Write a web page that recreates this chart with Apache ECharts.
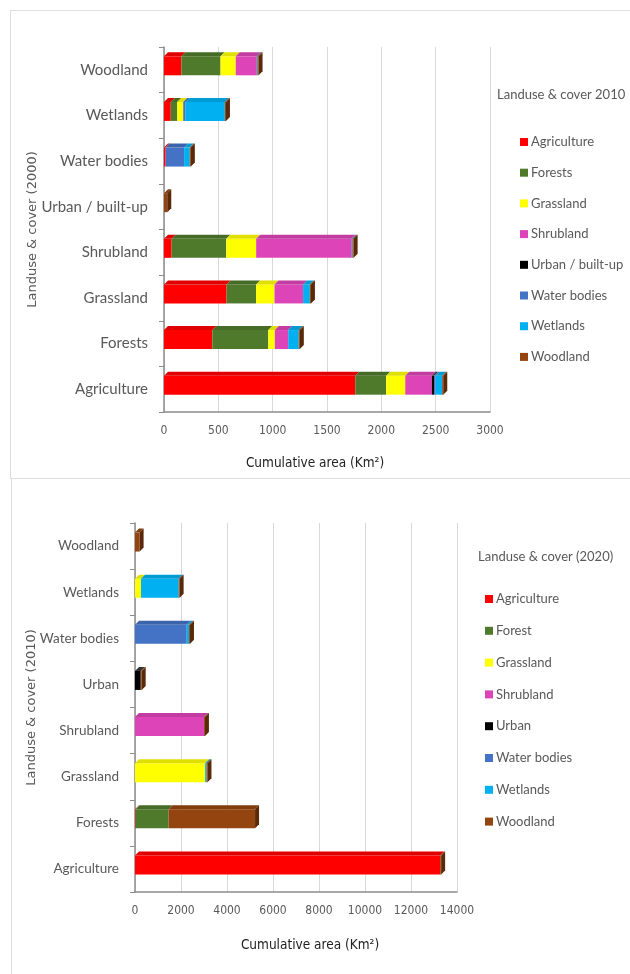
<!DOCTYPE html>
<html>
<head>
<meta charset="utf-8">
<script src="https://cdn.jsdelivr.net/npm/echarts@6/dist/echarts.min.js"></script>
<style>
  body { margin: 0; background: #fff; }
  .panel { position: absolute; border: 1px solid #dedede; border-right: none; background: #fff; }
</style>
</head>
<body>
<div id="top" class="panel" style="left:10px;top:10px;width:620px;height:467px;"></div>
<div id="bottom" class="panel" style="left:11px;top:478px;width:619px;height:496px;border-bottom:none;"></div>
<script>
// rows (y axis categories), bottom to top
const rows2000 = ['Agriculture', 'Forests', 'Grassland', 'Shrubland', 'Urban / built-up', 'Water bodies', 'Wetlands', 'Woodland'];
const rows2010 = ['Agriculture', 'Forests', 'Grassland', 'Shrubland', 'Urban', 'Water bodies', 'Wetlands', 'Woodland'];

// legend / series names
const classes2010 = ['Agriculture', 'Forests', 'Grassland', 'Shrubland', 'Urban / built-up', 'Water bodies', 'Wetlands', 'Woodland'];
const classes2020 = ['Agriculture', 'Forest', 'Grassland', 'Shrubland', 'Urban', 'Water bodies', 'Wetlands', 'Woodland'];

const colors = ['#ff0000', '#4f7a2c', '#ffff00', '#dd44b8', '#000000', '#4472c4', '#00b0f0', '#94440f'];

// 2000 -> 2010 transitions (km2), one array per 2010 class, ordered like rows2000
const agri2010 = [1760, 445, 576, 70, 0, 15, 62, 160];
const forest2010 = [285, 515, 272, 503, 0, 0, 60, 360];
const grass2010 = [175, 60, 169, 275, 0, 0, 55, 140];
const shrub2010 = [245, 123, 263, 877, 0, 0, 0, 190];
const urban2010 = [20, 0, 0, 0, 0, 0, 0, 0];
const water2010 = [15, 0, 0, 10, 0, 170, 22, 10];
const wet2010 = [60, 97, 62, 0, 0, 52, 361, 0];
const wood2010 = [10, 10, 10, 10, 30, 10, 10, 10];

// 2010 -> 2020 transitions (km2), ordered like rows2010
const agri2020 = [13270, 30, 0, 0, 0, 0, 0, 0];
const forest2020 = [0, 1430, 0, 0, 0, 0, 0, 0];
const grass2020 = [0, 0, 3050, 0, 0, 0, 260, 0];
const shrub2020 = [0, 0, 0, 3000, 0, 0, 0, 0];
const urban2020 = [0, 0, 0, 0, 250, 0, 0, 0];
const water2020 = [0, 0, 0, 0, 0, 2250, 0, 0];
const wet2020 = [0, 0, 60, 0, 0, 100, 1640, 0];
const wood2020 = [40, 3760, 40, 40, 40, 40, 40, 200];

const grey = '#595959';
const narrow = "'Liberation Sans Narrow', 'DejaVu Sans Condensed', 'Liberation Sans', sans-serif";

function shade(hex, f) {
  const n = parseInt(hex.slice(1), 16);
  const r = Math.round(((n >> 16) & 255) * f), g = Math.round(((n >> 8) & 255) * f), b = Math.round((n & 255) * f);
  return 'rgb(' + r + ',' + g + ',' + b + ')';
}

// stacked 3D-looking bars drawn with a custom series per class
function barSeries(names, values, barH, off, d) {
  const nRows = values[0].length;
  const base = values.map(() => new Array(nRows).fill(0));
  const lastIdx = new Array(nRows).fill(-1);
  for (let r = 0; r < nRows; r++) {
    let acc = 0;
    for (let i = 0; i < values.length; i++) {
      base[i][r] = acc;
      acc += values[i][r];
      if (values[i][r] > 0) lastIdx[r] = i;
    }
  }
  return names.map((n, i) => ({
    name: n, type: 'custom',
    itemStyle: { color: colors[i] },
    encode: { x: 0, y: 1 },
    data: values[i].map((v, r) => [v, r, base[i][r], lastIdx[r] === i ? 1 : 0]),
    renderItem: (params, api) => {
      const v = api.value(0);
      if (!v) return null;
      const r = api.value(1), b = api.value(2), last = api.value(3);
      const p0 = api.coord([b, r]), p1 = api.coord([b + v, r]);
      const x0 = p0[0], x1 = p1[0];
      const yt = p0[1] + off - barH / 2, yb = p0[1] + off + barH / 2;
      const kids = [
        { type: 'rect', shape: { x: x0, y: yt, width: x1 - x0, height: barH }, style: { fill: colors[i] } },
        { type: 'polygon', shape: { points: [[x0, yt], [x1, yt], [x1 + d, yt - d], [x0 + d, yt - d]] },
          style: { fill: colors[i] === '#000000' ? '#333' : shade(colors[i], 0.88) } }
      ];
      if (last) {
        kids.push({ type: 'polygon', shape: { points: [[x1, yt], [x1 + d, yt - d], [x1 + d, yb - d], [x1, yb]] },
          style: { fill: shade(colors[i], 0.6) } });
      }
      return { type: 'group', children: kids };
    }
  }));
}

function makeOption(cfg) {
  return {
    animation: false,
    color: colors,
    title: {
      text: cfg.legendTitle,
      left: cfg.legendTitleLeft, top: cfg.legendTitleTop,
      textStyle: { fontFamily: 'Lato', fontSize: 13, fontWeight: 'normal', color: grey }
    },
    legend: {
      orient: 'vertical',
      left: cfg.legendLeft, top: cfg.legendTop,
      itemWidth: 8, itemHeight: 8, itemGap: cfg.legendGap,
      icon: 'rect',
      data: cfg.names,
      textStyle: { fontFamily: 'Lato', fontSize: 13, color: grey, lineHeight: 16, padding: [0, 0, 0, -2] }
    },
    grid: {
      left: cfg.gridLeft, top: cfg.gridTop, width: cfg.gridWidth, height: cfg.gridHeight,
      containLabel: false, outerBoundsMode: 'none'
    },
    xAxis: {
      type: 'value',
      min: 0, max: cfg.max, interval: cfg.step,
      name: 'Cumulative area (Km²)',
      nameLocation: 'middle', nameGap: cfg.xNameGap,
      nameTextStyle: { fontFamily: narrow, fontSize: 13.5, color: '#222', padding: cfg.xNamePad },
      axisLine: { show: true, lineStyle: { color: '#8c8c8c', width: 1.5 } },
      axisTick: { show: false },
      axisLabel: { fontFamily: narrow, fontSize: 12, color: grey, margin: 13, formatter: v => String(v) },
      splitLine: { show: true, lineStyle: { color: '#d9d9d9' } }
    },
    yAxis: {
      type: 'category',
      data: cfg.rows,
      name: cfg.yName,
      nameLocation: 'middle', nameGap: cfg.yNameGap, nameRotate: 90,
      nameMoveOverlap: false,
      nameTextStyle: { fontFamily: 'DejaVu Sans', fontSize: 13, color: grey },
      axisLine: { show: true, lineStyle: { color: '#8c8c8c', width: 1.5 } },
      axisTick: { show: true, length: 5, lineStyle: { color: '#8c8c8c' } },
      axisLabel: { fontFamily: 'Lato', fontSize: cfg.labelSize, color: grey, margin: 16 }
    },
    series: barSeries(cfg.names, cfg.values, 19, -4, 4)
  };
}

const topChart = echarts.init(document.getElementById('top'));
topChart.setOption(makeOption({
  legendTitle: 'Landuse & cover 2010', legendTitleLeft: 481, legendTitleTop: 72,
  legendLeft: 504, legendTop: 118, legendGap: 14.7,
  names: classes2010, rows: rows2000,
  values: [agri2010, forest2010, grass2010, shrub2010, urban2010, water2010, wet2010, wood2010],
  gridLeft: 153, gridTop: 36, gridWidth: 326, gridHeight: 365,
  max: 3000, step: 500, xNameGap: 44, xNamePad: [0, 24, 0, 0],
  yName: 'Landuse & cover (2000)', yNameGap: 125, labelSize: 15
}));

const bottomChart = echarts.init(document.getElementById('bottom'));
bottomChart.setOption(makeOption({
  legendTitle: 'Landuse & cover (2020)', legendTitleLeft: 461, legendTitleTop: 66,
  legendLeft: 468, legendTop: 107, legendGap: 15.8,
  names: classes2020, rows: rows2010,
  values: [agri2020, forest2020, grass2020, shrub2020, urban2020, water2020, wet2020, wood2020],
  gridLeft: 123, gridTop: 44, gridWidth: 322, gridHeight: 369,
  max: 14000, step: 2000, xNameGap: 46, xNamePad: [0, 0, 0, 28],
  yName: 'Landuse & cover (2010)', yNameGap: 97, labelSize: 13.5
}));
</script>
</body>
</html>
